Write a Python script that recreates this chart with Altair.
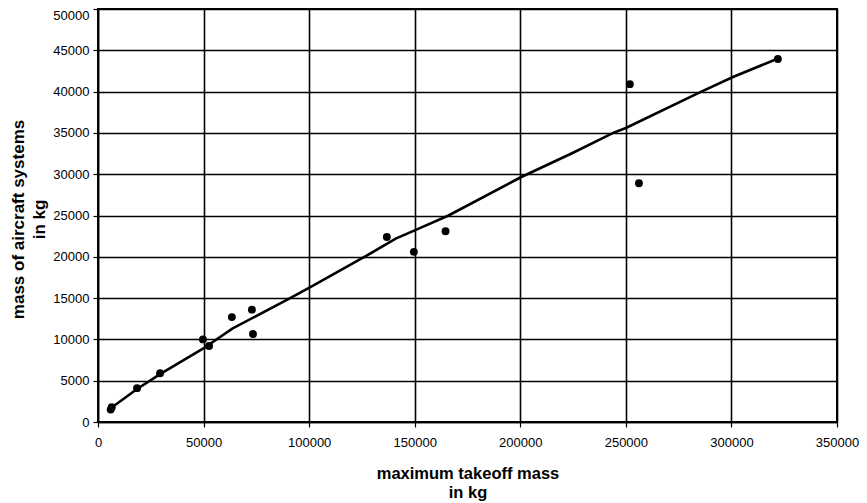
import altair as alt
import pandas as pd

# Observed aircraft (maximum takeoff mass, mass of aircraft systems), kg
pts_x = [6000, 6500, 18500, 29400, 49700, 52600, 63400, 72900, 73400,
         136800, 149600, 164600, 251900, 256200, 322000]
pts_y = [1500, 1800, 4100, 5900, 10000, 9200, 12700, 13600, 10650,
         22400, 20600, 23100, 40900, 28900, 43950]

# Trend curve as drawn
line_x = [6500, 18500, 29400, 49900, 63600, 91000, 101000, 127000, 141000,
          150000, 166000, 200000, 225000, 244000, 250000, 285000, 301000, 322000]
line_y = [1750, 4000, 5800, 8900, 11300, 15000, 16400, 20100, 22200,
          23200, 25000, 29600, 32600, 35000, 35600, 39900, 41800, 44000]

x_ticks = [0, 50000, 100000, 150000, 200000, 250000, 300000, 350000]
y_ticks = [0, 5000, 10000, 15000, 20000, 25000, 30000, 35000, 40000, 45000, 50000]

x_title = ["maximum takeoff mass", "in kg"]
y_title = ["mass of aircraft systems", "in kg"]

pts = pd.DataFrame({"mtom": pts_x, "sys": pts_y})
trend = pd.DataFrame({"mtom": line_x, "sys": line_y, "order": list(range(len(line_x)))})

FONT = "Liberation Sans"

x_enc = alt.X(
    "mtom:Q",
    scale=alt.Scale(domain=[0, 350000], nice=False, zero=True),
    axis=alt.Axis(
        values=x_ticks, format="d", title=x_title,
        titleFontSize=16.5, titleLineHeight=19, titleBaseline="alphabetic",
        titleY=56, titleAnchor="middle",
        labelPadding=9, labelFlush=False,
    ),
)
y_enc = alt.Y(
    "sys:Q",
    scale=alt.Scale(domain=[0, 50000], nice=False, zero=True),
    axis=alt.Axis(
        values=y_ticks, format="d", title=y_title,
        titleFontSize=17, titleLineHeight=21, titleBaseline="alphabetic",
        titleX=-75, titleY=210, titleAlign="center", titleAngle=270,
        labelPadding=4,
        labelBaseline={"condition": {"test": "datum.value >= 50000", "value": "top"},
                       "value": "middle"},
    ),
)

line = alt.Chart(trend).mark_line(color="black", strokeWidth=2.6).encode(
    x=x_enc, y=y_enc, order="order:Q"
)
points = alt.Chart(pts).mark_circle(color="black", opacity=1, size=62).encode(
    x=x_enc, y=y_enc
)

chart = (
    alt.layer(line, points)
    .properties(
        width=739, height=413,
        autosize=alt.AutoSizeParams(type="none"),
        padding={"left": 90, "top": 1, "right": 22, "bottom": 81},
        background="white",
    )
    .configure_view(stroke="black", strokeWidth=2)
    .configure_axis(
        domainColor="black", domainWidth=1.5,
        tickColor="black", tickSize=5, tickWidth=1.2,
        grid=True, gridColor="black", gridWidth=1.6, gridOpacity=1,
        labelFont=FONT, labelFontSize=13, labelColor="black",
        titleFont=FONT, titleFontWeight="bold", titleColor="black",
    )
)

chart.save("out.html", embed_options={"renderer": "svg", "actions": False})
